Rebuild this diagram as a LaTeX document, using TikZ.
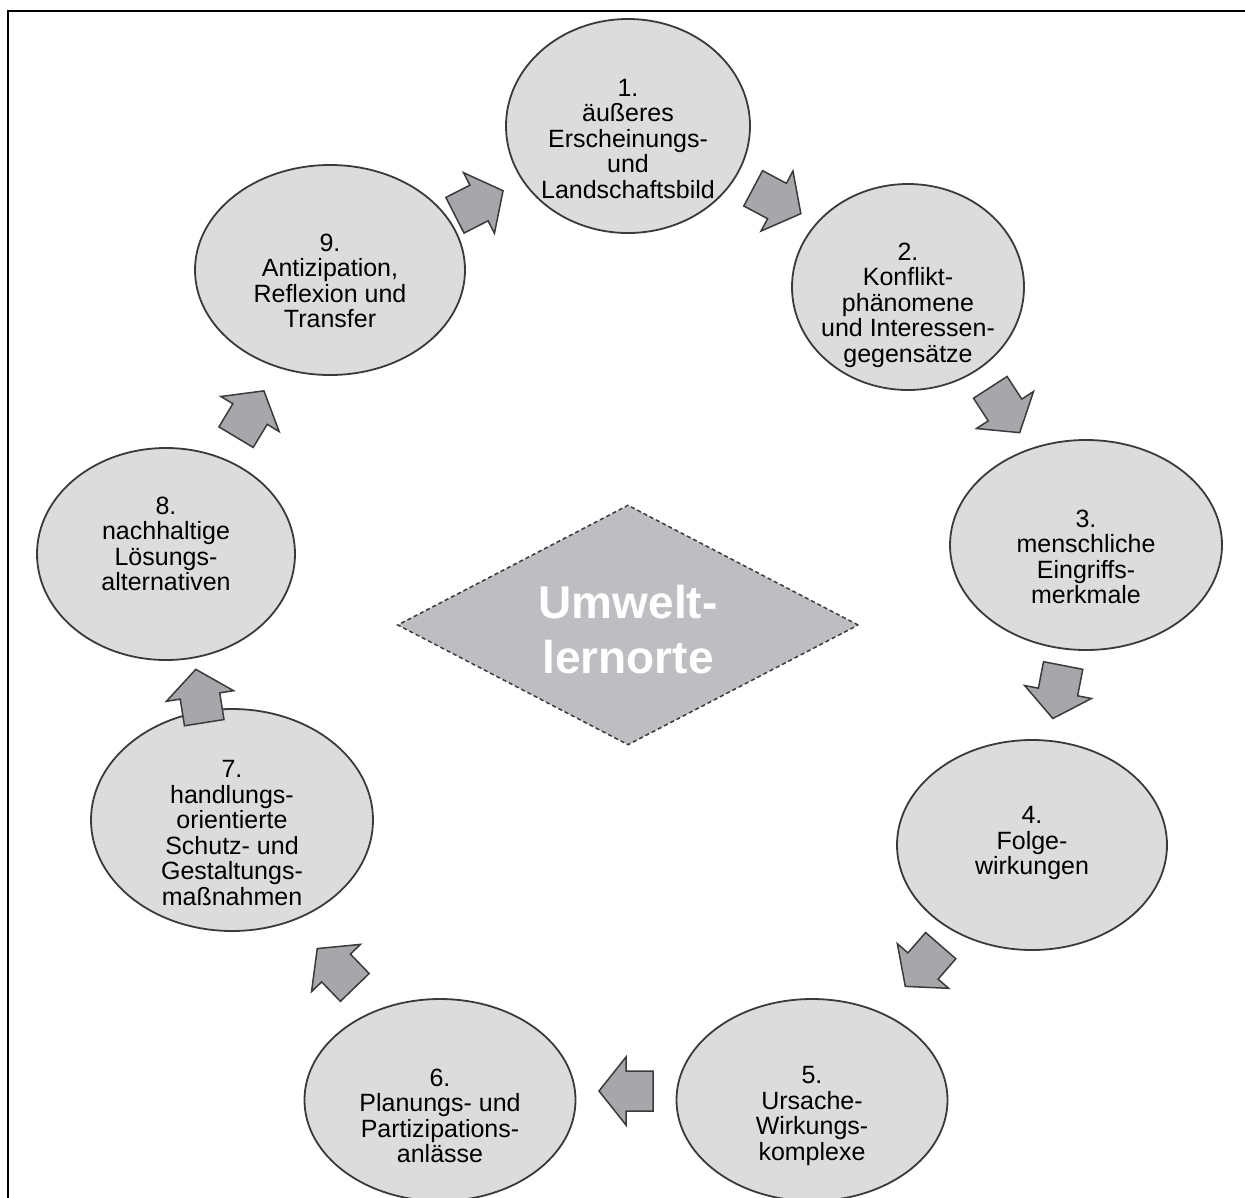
\documentclass[tikz,border=0pt]{standalone}
\usepackage{fontspec}
\setmainfont{Liberation Sans}
\usetikzlibrary{shapes.geometric}
\definecolor{ellfill}{HTML}{DCDCDE}
\definecolor{ellline}{HTML}{3A3A3A}
\definecolor{arrfill}{HTML}{A6A7AB}
\definecolor{diafill}{HTML}{BDBEC2}
\begin{document}
\begin{tikzpicture}[x=1pt,y=-1pt,
  ell/.style={ellipse, draw=ellline, fill=ellfill, line width=1.8pt, inner sep=0pt},
  txt/.style={align=center, font=\fontsize{25}{25.5}\selectfont, text=black, inner sep=0pt},
  blockarrow/.style={fill=arrfill, draw=ellline, line width=1.5pt, line join=miter},
  dia/.style={diamond, draw=ellline, fill=diafill, line width=1.5pt, dash pattern=on 4pt off 3pt, inner sep=0pt}]
\useasboundingbox (0,0) rectangle (1245,1197);
\clip (0,0) rectangle (1245,1197);
\draw[line width=2.5pt] (8,1210) -- (8,11) -- (1260,11);
% ellipses
\node[ell, minimum width=244pt, minimum height=214pt] (e1) at (628,126) {};
\node[ell, minimum width=232pt, minimum height=206pt] (e2) at (908,287) {};
\node[ell, minimum width=272pt, minimum height=210pt] (e3) at (1086,545) {};
\node[ell, minimum width=270pt, minimum height=210pt] (e4) at (1032,845) {};
\node[ell, minimum width=271pt, minimum height=202pt] (e5) at (812,1100) {};
\node[ell, minimum width=271pt, minimum height=202pt] (e6) at (440,1100) {};
\node[ell, minimum width=282pt, minimum height=222pt] (e7) at (232,820) {};
\node[ell, minimum width=258pt, minimum height=212pt] (e8) at (166,554) {};
\node[ell, minimum width=270pt, minimum height=210pt] (e9) at (330,270) {};
% texts
\node[txt] (t1) at (628,139) {1.\\äußeres\\Erscheinungs-\\und\\Landschaftsbild};
\node[txt] (t2) at (908,305) {2.\\Konflikt-\\phänomene\\und Interessen-\\gegensätze};
\node[txt] (t3) at (1086,557) {3.\\menschliche\\Eingriffs-\\merkmale};
\node[txt] (t4) at (1032,843) {4.\\Folge-\\wirkungen};
\node[txt] (t5) at (812,1116) {5.\\Ursache-\\Wirkungs-\\komplexe};
\node[txt] (t6) at (440,1116) {6.\\Planungs- und\\Partizipations-\\anlässe};
\node[txt] (t7) at (232,833) {7.\\handlungs-\\orientierte\\Schutz- und\\Gestaltungs-\\maßnahmen};
\node[txt] (t8) at (166,544) {8.\\nachhaltige\\Lösungs-\\alternativen};
\node[txt] (t9) at (330,281) {9.\\Antizipation,\\Reflexion und\\Transfer};
% centre diamond
\node[dia, minimum width=461pt, minimum height=240pt] (d) at (628,625) {};
\node[font=\fontsize{46}{55}\selectfont\bfseries, text=white, align=center, inner sep=0pt] (dt) at (628,630) {Umwelt-\\lernorte};
% block arrows
\foreach \px/\py/\ang in {479/203/27, 777/201/-28, 1005/410/-57, 1058/692/-101, 923/966/-131, 626/1091/180, 336/968/134, 200/696/99, 250/414/59}
  \draw[blockarrow, shift={(\px,\py)}, rotate=\ang] (27,0) -- (0,34) -- (0,20) -- (-27,20) -- (-27,-20) -- (0,-20) -- (0,-34) -- cycle;
\end{tikzpicture}
\end{document}
